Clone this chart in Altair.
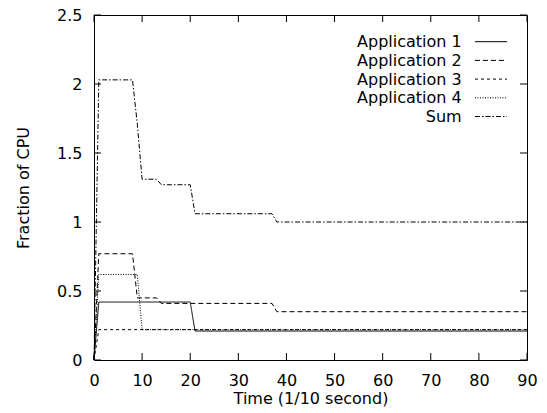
import altair as alt
import pandas as pd

# Per-application CPU share over time (time in 1/10 s), plus their sum
series_names = ["Application 1", "Application 2", "Application 3", "Application 4", "Sum"]

app1_t = [0, 1, 20, 21, 90]
app1_v = [0, 0.42, 0.42, 0.21, 0.21]

app2_t = [0, 1, 8, 9, 13, 14, 37, 38, 90]
app2_v = [0, 0.77, 0.77, 0.45, 0.45, 0.41, 0.41, 0.35, 0.35]

app3_t = [0, 1, 90]
app3_v = [0, 0.22, 0.22]

app4_t = [0, 1, 9, 10, 90]
app4_v = [0, 0.62, 0.62, 0.22, 0.22]

sum_t = [0, 1, 8, 9, 10, 13, 14, 20, 21, 37, 38, 90]
sum_v = [0, 2.03, 2.03, 1.71, 1.31, 1.31, 1.27, 1.27, 1.06, 1.06, 1.00, 1.00]

x_ticks = [0, 10, 20, 30, 40, 50, 60, 70, 80, 90]
y_ticks = [0, 0.5, 1, 1.5, 2, 2.5]

W, H = 433, 345
FONT = "DejaVu Sans"
TICK = 7

rows = []
for name, ts, vs in zip(series_names,
                        [app1_t, app2_t, app3_t, app4_t, sum_t],
                        [app1_v, app2_v, app3_v, app4_v, sum_v]):
    for t, v in zip(ts, vs):
        rows.append({"series": name, "t": t, "v": v})
df = pd.DataFrame(rows)

x_scale = alt.Scale(domain=[0, 90], nice=False, zero=False)
y_scale = alt.Scale(domain=[0, 2.5], nice=False)
dash_scale = alt.Scale(
    domain=series_names,
    range=[[1, 0], [5, 3], [3, 3], [1, 1.5], [5, 2, 1.5, 2]],
)

x_axis = alt.Axis(values=x_ticks, ticks=False, tickSize=0, domain=False,
                  grid=False, labelPadding=25, labelBaseline="alphabetic",
                  labelFlush=False, labelOverlap=False,
                  title="Time (1/10 second)", titleX=W / 2, titleY=43,
                  titleAlign="center", titleBaseline="alphabetic")
y_axis = alt.Axis(values=y_ticks, format="~g", ticks=False, tickSize=0,
                  domain=False, grid=False, labelPadding=12,
                  labelBaseline="middle", labelFlush=False, labelOverlap=False,
                  title="Fraction of CPU", titleX=-66, titleY=H / 2,
                  titleAlign="center", titleBaseline="alphabetic")

lines = alt.Chart(df).mark_line(color="black", strokeWidth=1).encode(
    x=alt.X("t:Q", scale=x_scale, axis=x_axis),
    y=alt.Y("v:Q", scale=y_scale, axis=y_axis),
    strokeDash=alt.StrokeDash("series:N", scale=dash_scale, legend=None),
    detail="series:N",
)

# Inward tick marks on all four sides
xt = pd.DataFrame({"t": x_ticks})
yt = pd.DataFrame({"v": y_ticks})
tick_bottom = alt.Chart(xt).mark_rule(color="black").encode(
    x=alt.X("t:Q", scale=x_scale, axis=x_axis), y=alt.value(H), y2=alt.value(H - TICK))
tick_top = alt.Chart(xt).mark_rule(color="black").encode(
    x=alt.X("t:Q", scale=x_scale, axis=x_axis), y=alt.value(0), y2=alt.value(TICK))
tick_left = alt.Chart(yt).mark_rule(color="black").encode(
    y=alt.Y("v:Q", scale=y_scale, axis=y_axis), x=alt.value(0), x2=alt.value(TICK))
tick_right = alt.Chart(yt).mark_rule(color="black").encode(
    y=alt.Y("v:Q", scale=y_scale, axis=y_axis), x=alt.value(W), x2=alt.value(W - TICK))

# Key in the upper right: label, then a line sample
legend_df = pd.DataFrame({"series": series_names})
key_layers = []
for i, name in enumerate(series_names):
    base_y = 32.3 + 18.7 * i
    row = alt.Chart(legend_df).transform_filter(alt.datum.series == name)
    key_layers.append(
        row.mark_text(align="right", baseline="alphabetic", fontSize=16,
                      font=FONT, color="black").encode(
            x=alt.value(367.7), y=alt.value(base_y), text="series:N"))
    key_layers.append(
        row.mark_rule(color="black", strokeWidth=1).encode(
            x=alt.value(381), x2=alt.value(413), y=alt.value(base_y - 5.6),
            strokeDash=alt.StrokeDash("series:N", scale=dash_scale, legend=None)))

chart = alt.layer(lines, tick_bottom, tick_top, tick_left, tick_right, *key_layers).properties(
    width=W, height=H,
    autosize=alt.AutoSizeParams(type="none"),
    padding={"left": 94, "top": 15, "right": 20, "bottom": 53},
    background="white",
).configure_view(
    stroke="black", strokeWidth=1
).configure_axis(
    labelFont=FONT, titleFont=FONT, labelFontSize=16, titleFontSize=16,
    labelColor="black", titleColor="black", titleFontWeight="normal",
)

chart.save("out.html", embed_options={"renderer": "svg", "actions": False})
